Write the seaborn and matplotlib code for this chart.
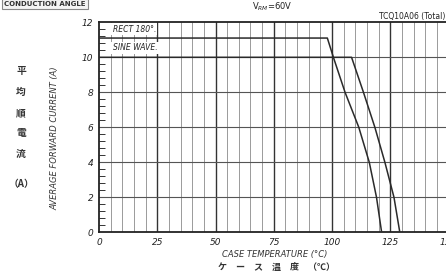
import numpy as np
import matplotlib
matplotlib.use("Agg")
import matplotlib.pyplot as plt
import pandas as pd
import seaborn as sns

# derating curves
rect_temp = [0, 98, 100.6, 105.6, 111.5, 116, 119.1, 121.3]
rect_curr = [11.1, 11.1, 10, 8, 6, 4, 2, 0]
sine_temp = [0, 108.4, 113.5, 118.4, 122.7, 126.6, 129.1]
sine_curr = [10, 10, 8, 6, 4, 2, 0]

x_ticks = [0, 25, 50, 75, 100, 125, 150]
y_ticks = [0, 2, 4, 6, 8, 10, 12]

sns.set_theme(style="white")
plt.rcParams['font.family'] = ['DejaVu Sans', 'Noto Sans CJK JP']

df = pd.concat([
    pd.DataFrame({'temp': rect_temp, 'curr': rect_curr, 'wave': 'RECT'}),
    pd.DataFrame({'temp': sine_temp, 'curr': sine_curr, 'wave': 'SINE'}),
])

fig = plt.figure(figsize=(4.46, 2.73), dpi=100)
ax = fig.add_axes([99/446, 40.7/273, 349.5/446, 210/273])

# grid
for xv in np.arange(5, 150, 5):
    if xv % 25 == 0:
        ax.axvline(xv, color='#333333', lw=1.0, zorder=1)
    else:
        ax.axvline(xv, color='#9a9a9a', lw=0.7, zorder=1)
for yv in y_ticks[1:-1]:
    ax.axhline(yv, color='#555555', lw=0.8, zorder=1)

sns.lineplot(data=df, x='temp', y='curr', units='wave', estimator=None,
             sort=False, color='#2a2a2a', lw=1.1, ax=ax, zorder=3)

ax.set_xlim(0, 150)
ax.set_ylim(0, 12)
ax.set_xticks(x_ticks)
ax.set_yticks(y_ticks)
ax.set_yticks(np.arange(0, 12.01, 0.4), minor=True)
ax.tick_params(axis='y', which='minor', direction='in', length=4, width=0.7,
               color='#333333', left=True)
ax.tick_params(axis='both', which='major', length=0, labelsize=6.5, pad=4,
               labelcolor='#222222')
for lab in ax.get_xticklabels() + ax.get_yticklabels():
    lab.set_fontstyle('italic')
ax.set_xlabel('')
ax.set_ylabel('')
for s in ax.spines.values():
    s.set_color('#222222')
    s.set_linewidth(1.3)

box = dict(facecolor='white', edgecolor='none', pad=1)
ax.text(5.8, 11.6, 'RECT 180°.', fontsize=5.5, style='italic', va='center',
        color='#222222', bbox=box, zorder=4)
ax.text(5.8, 10.55, 'SINE WAVE.', fontsize=5.5, style='italic', va='center',
        color='#222222', bbox=box, zorder=4)

# outside texts
fig.text(45/446, 1 - 4/273, 'CONDUCTION ANGLE', fontsize=5, weight='bold',
         ha='center', va='center', color='#333333',
         bbox=dict(facecolor='#f4f4f4', edgecolor='#888888', pad=1.5, lw=0.8))
fig.text(272/446, 1 - 7/273, 'V$_{RM}$=60V', fontsize=6, ha='center',
         va='center', color='#222222')
fig.text(445/446, 1 - 16/273, 'TCQ10A06 (Total)', fontsize=5.5, ha='right',
         va='center', color='#222222')

fig.text(55/446, 1 - 138/273, 'AVERAGE FORWARD CURRENT (A)', fontsize=6,
         style='italic', rotation=90, ha='center', va='center', color='#333333')
cjk = ['Noto Sans CJK JP', 'DejaVu Sans']
for ch, yp in zip(['平', '均', '順', '電', '流'], [71, 92, 113, 133, 154]):
    fig.text(21/446, 1 - yp/273, ch, fontsize=7, ha='center', va='center',
             family=cjk, weight='bold', color='#333333')
fig.text(21/446, 1 - 184/273, '（A）', fontsize=7, ha='center', va='center',
         family=cjk, weight='bold', color='#333333')

fig.text(275/446, 1 - 255/273, 'CASE TEMPERATURE (°C)', fontsize=6,
         style='italic', ha='center', va='center', color='#333333')
fig.text(276/446, 1 - 267/273, 'ケ　ー　ス　温　度　（℃）', fontsize=6.5,
         ha='center', va='center', family=cjk, weight='bold',
         color='#333333')

fig.savefig('out.png', dpi=100)
